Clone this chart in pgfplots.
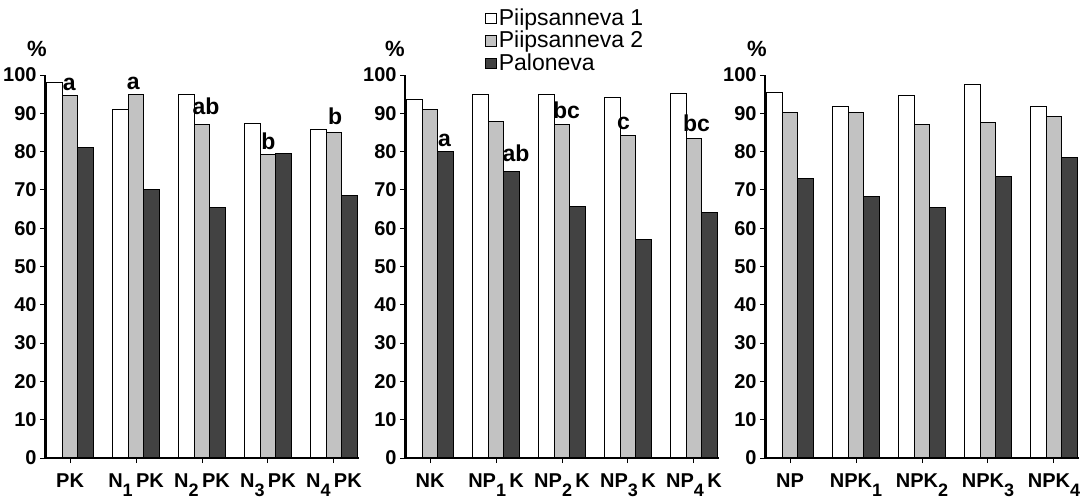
\documentclass[border=0pt]{standalone}
\usepackage{fontspec}
\setmainfont{Liberation Sans}
\usepackage{pgfplots}
\pgfplotsset{compat=1.18}

\newcommand{\sub}[1]{\raisebox{-4.5pt}{\fontsize{9}{9}\selectfont #1}}
\newcommand{\lab}[3]{\node[anchor=south west, inner sep=0pt, font=\bfseries\fontsize{11.5}{11.5}\selectfont] at (axis cs:#1,#2) {#3};}

\pgfplotsset{
  panel/.style={
    scale only axis, width=157pt, height=191.5pt,
    xmin=-0.38, xmax=4.38, ymin=0, ymax=100,
    axis x line=bottom, axis y line=left,
    axis line style={-, line width=0.6pt, black},
    axis on top,
    xtick={0,1,2,3,4}, ytick={0,10,...,100},
    tick align=outside, major tick length=2.5pt,
    tick style={black, line width=0.5pt},
    /pgf/number format/assume math mode=true,
    ticklabel style={font=\bfseries\fontsize{10}{10}\selectfont},
    yticklabel style={inner sep=1.5pt},
    xticklabel style={inner sep=1pt, yshift=-4pt},
    clip=false,
  },
  legimg/.style={legend image code/.code={\draw[##1, line width=0.5pt] (0pt,-2.6pt) rectangle (5.2pt,2.6pt);}},
  b1/.style={ybar, bar width=0.235, bar shift=-0.235, fill=white, draw=black, line width=0.5pt, legimg},
  b2/.style={ybar, bar width=0.235, bar shift=0, fill=black!24, draw=black, line width=0.5pt, legimg},
  b3/.style={ybar, bar width=0.235, bar shift=0.235, fill=black!74, draw=black, line width=0.5pt, legimg},
}

\begin{document}
\begin{tikzpicture}
\useasboundingbox (-22.5pt,-21pt) rectangle (521pt,229pt);

% Panel 1
\begin{axis}[panel, at={(0pt,0pt)}, anchor=south west,
  xticklabels={PK, N\sub{1}\,PK, N\sub{2}\,PK, N\sub{3}\,PK, N\sub{4}\,PK}]
\addplot[b1] coordinates {(0,98) (1,91) (2,95) (3,87.3) (4,85.7)};
\addplot[b2] coordinates {(0,94.7) (1,95) (2,87) (3,79.2) (4,85)};
\addplot[b3] coordinates {(0,81.2) (1,70) (2,65.3) (3,79.5) (4,68.5)};
\node[font=\bfseries\fontsize{11}{11}\selectfont, anchor=south, inner sep=0pt] at (rel axis cs:0,1) [xshift=-4pt, yshift=9pt] {\%};
\lab{-0.115}{95.8}{a}
\lab{0.855}{96.0}{a}
\lab{1.85}{89.4}{ab}
\lab{2.895}{80.4}{b}
\lab{3.905}{87.0}{b}
\end{axis}

% Panel 2
\begin{axis}[panel, at={(180pt,0pt)}, anchor=south west,
  xticklabels={NK, NP\sub{1}\,K, NP\sub{2}\,K, NP\sub{3}\,K, NP\sub{4}\,K},
  legend style={at={(axis description cs:0,1)}, anchor=south west, xshift=37pt, yshift=-2.5pt,
    draw=none, fill=none, font=\fontsize{11.5}{11.5}\selectfont, row sep=-0.5pt,
    nodes={inner sep=1pt}},
  legend cell align=left]
\addplot[b1] coordinates {(0,93.5) (1,94.9) (2,94.8) (3,94) (4,95.3)};
\addplot[b2] coordinates {(0,90.9) (1,87.8) (2,87.2) (3,84.2) (4,83.4)};
\addplot[b3] coordinates {(0,80) (1,74.8) (2,65.7) (3,57.1) (4,64.1)};
\legend{Piipsanneva 1, Piipsanneva 2, Paloneva}
\node[font=\bfseries\fontsize{11}{11}\selectfont, anchor=south, inner sep=0pt] at (rel axis cs:0,1) [xshift=-5pt, yshift=9pt] {\%};
\lab{0.115}{81.3}{a}
\lab{1.095}{77.2}{ab}
\lab{1.86}{88.5}{bc}
\lab{2.83}{85.7}{c}
\lab{3.83}{85.0}{bc}
\end{axis}

% Panel 3
\begin{axis}[panel, at={(360pt,0pt)}, anchor=south west,
  xticklabels={NP, NPK\sub{1}, NPK\sub{2}, NPK\sub{3}, NPK\sub{4}}]
\addplot[b1] coordinates {(0,95.4) (1,91.8) (2,94.7) (3,97.5) (4,91.8)};
\addplot[b2] coordinates {(0,90.3) (1,90.1) (2,87.2) (3,87.6) (4,89.2)};
\addplot[b3] coordinates {(0,73.1) (1,68.3) (2,65.3) (3,73.4) (4,78.5)};
\node[font=\bfseries\fontsize{11}{11}\selectfont, anchor=south, inner sep=0pt] at (rel axis cs:0,1) [xshift=-4pt, yshift=9pt] {\%};
\end{axis}
\end{tikzpicture}
\end{document}
